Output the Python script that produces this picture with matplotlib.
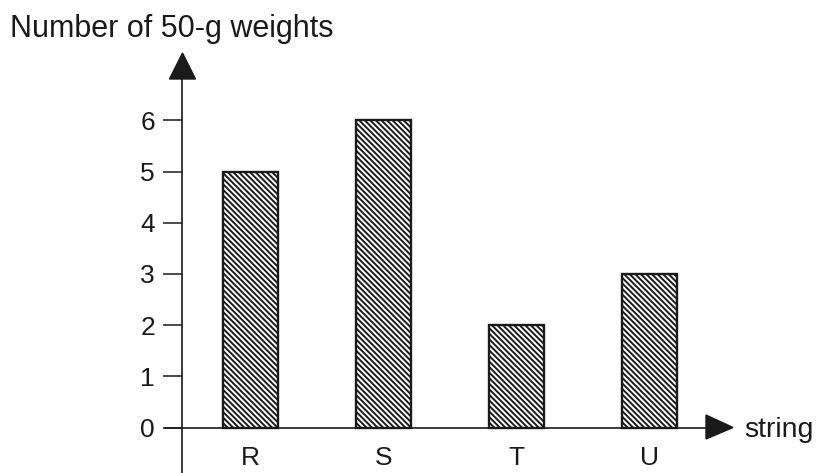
import matplotlib
matplotlib.use("Agg")
import matplotlib.pyplot as plt
from matplotlib.patches import Polygon

categories = ["R", "S", "T", "U"]
values = [5, 6, 2, 3]
yticks = [0, 1, 2, 3, 4, 5, 6]
ylabel = "Number of 50-g weights"
xlabel = "string"

plt.rcParams['font.family'] = ['Liberation Sans', 'DejaVu Sans']
plt.rcParams['hatch.linewidth'] = 1.4
plt.rcParams['hatch.color'] = '#1a1a1a'

W, H = 818, 473
fig = plt.figure(figsize=(W / 100, H / 100), dpi=100)
ax = fig.add_axes([0, 0, 1, 1])

# pixel -> data mapping
x0px, xstep = 250.5, 133.0
y0px, ystep = 427.5, 51.2
def xd(px):
    return (px - x0px) / xstep
def yd(py):
    return (y0px - py) / ystep

ax.set_xlim(xd(0), xd(W))
ax.set_ylim(yd(H), yd(0))
ax.patch.set_alpha(0)

xs = list(range(len(categories)))
ax.bar(xs, values, width=0.41, color='white', edgecolor='#1a1a1a',
       linewidth=1.7, hatch='\\\\\\\\\\\\', zorder=3)

ink = '#1a1a1a'
for s in ['top', 'right']:
    ax.spines[s].set_visible(False)
ax.spines['left'].set_position(('data', xd(182)))
ax.spines['left'].set_bounds(yd(H), yd(78))
ax.spines['bottom'].set_position(('data', 0))
ax.spines['bottom'].set_bounds(xd(165), xd(712))
for s in ['left', 'bottom']:
    ax.spines[s].set_linewidth(1.2)
    ax.spines[s].set_color(ink)

# arrow heads
ax.add_patch(Polygon([(xd(169.5), yd(79)), (xd(195.5), yd(79)), (xd(182.5), yd(53))],
                     closed=True, color=ink, zorder=4, clip_on=False))
ax.add_patch(Polygon([(xd(706), yd(415)), (xd(706), yd(439)), (xd(733), yd(427.5))],
                     closed=True, color=ink, zorder=4, clip_on=False))

ax.set_yticks(yticks)
ax.set_yticklabels([str(t) for t in yticks])
ax.tick_params(axis='y', direction='out', length=13.5, width=1.1, pad=6,
               labelsize=19, colors=ink)
ax.set_xticks(xs)
ax.set_xticklabels(categories)
ax.tick_params(axis='x', length=0, pad=13, labelsize=19, colors=ink)

ax.text(xd(10), yd(37), ylabel, fontsize=22, color=ink, ha='left', va='baseline')
ax.text(xd(744), yd(437), xlabel, fontsize=20.5, color=ink, ha='left', va='baseline')

fig.savefig("out.png", dpi=100)
